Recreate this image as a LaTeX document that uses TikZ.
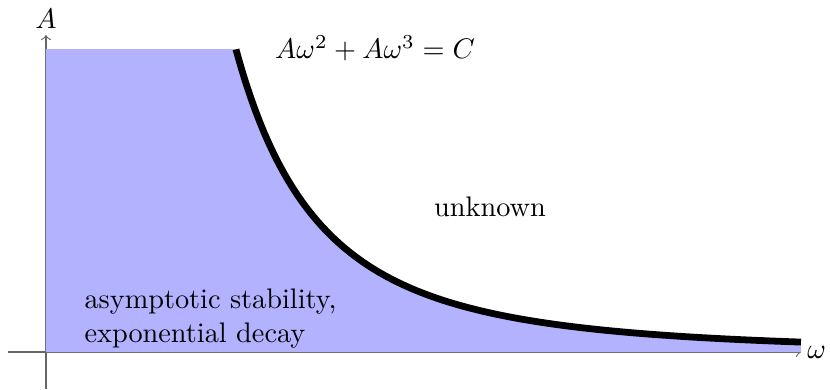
\documentclass[tikz,border=0pt]{standalone}
\usepackage{tikz}
\usetikzlibrary{positioning}

\begin{document}
\begin{tikzpicture}[
      axis/.style={->, draw=black!60},
      region/.style={fill=blue!30},
      bound/.style={line width=2.4pt},
      lbl/.style={font=\normalsize, align=left}
    ]
    \useasboundingbox (-0.571,-0.46) rectangle (9.739,4.373);
    \coordinate (o)    at (0,0);
    \coordinate (xmin) at (-0.472,0);
    \coordinate (xmax) at (9.379,0);
    \coordinate (ymin) at (0,-0.46);
    \coordinate (ymax) at (0,3.938);

    \draw[axis] (xmin) -- (xmax) node[right, inner sep=2pt] (w) {$\omega$};
    \draw[axis] (ymin) -- (ymax) node[above, inner sep=2pt] (a) {$A$};

    \fill[region] (o) -- (0,3.764) -- (2.36,3.764)
      -- plot[domain=2.36:9.379, samples=120] (\x,{1.106/((\x/5.24)^2+(\x/5.24)^3)})
      -- (xmax) -- cycle;
    \draw[bound] plot[domain=2.36:9.379, samples=120] (\x,{1.106/((\x/5.24)^2+(\x/5.24)^3)});

    \node[lbl] (eq)   at (4.087,3.776) {$A\omega^2 + A\omega^3 = C$};
    \node[lbl] (unk)  at (5.516,1.801) {unknown};
    \node[lbl, anchor=west] (stab) at (0.355,0.41) {asymptotic stability,\\exponential decay};
  \end{tikzpicture}
\end{document}
